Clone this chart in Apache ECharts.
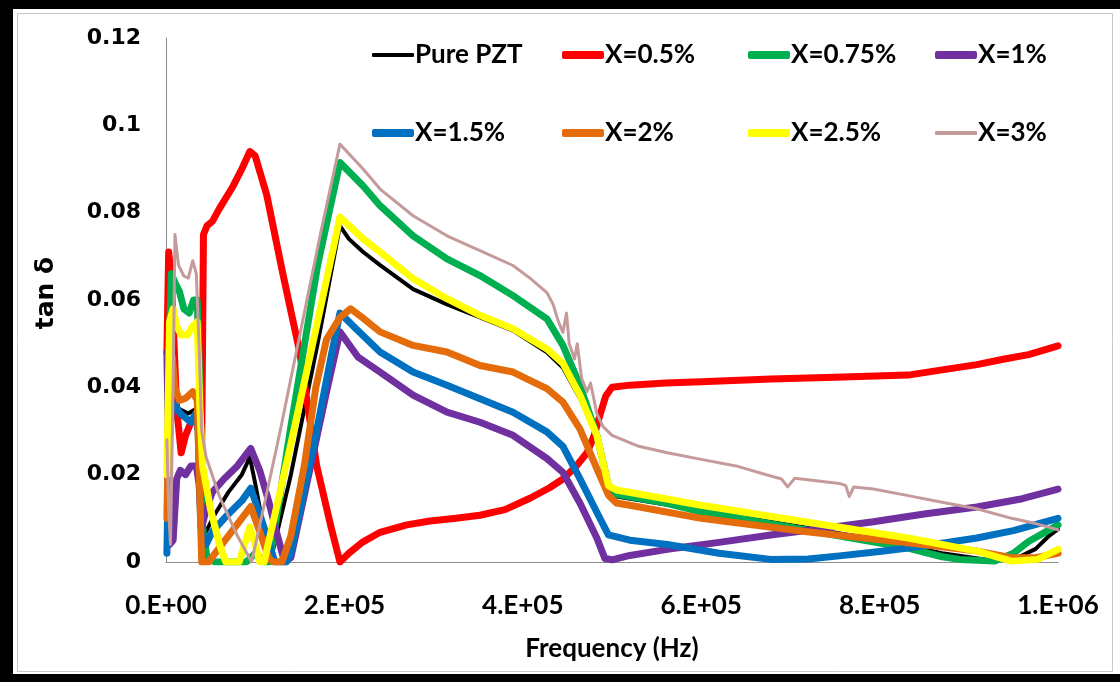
<!DOCTYPE html>
<html>
<head>
<meta charset="utf-8">
<script src="https://cdn.jsdelivr.net/npm/echarts@6/dist/echarts.min.js"></script>
<style>
  html, body { margin: 0; padding: 0; background: #ffffff; }
  #chart { width: 1120px; height: 682px; }
</style>
</head>
<body>
<div id="chart"></div>
<script>
// Dielectric loss (tan δ) versus frequency for PZT ceramics with different dopant levels.
// Each series is a list of [frequency in Hz, tan δ] pairs.

const xTickLabels = ['0.E+00', '2.E+05', '4.E+05', '6.E+05', '8.E+05', '1.E+06'];
const yTickLabels = ['0', '0.02', '0.04', '0.06', '0.08', '0.1', '0.12'];

const seriesNames = ['Pure PZT', 'X=0.5%', 'X=0.75%', 'X=1%', 'X=1.5%', 'X=2%', 'X=2.5%', 'X=3%'];
const seriesColors = ['#000000', '#FF0000', '#00B050', '#7030A0', '#0070C0', '#E46C0A', '#FFFF00', '#C49A9A'];

const purePZT = [
  [1000,0.004],[3000,0.030],[6000,0.036],[15000,0.035],[25000,0.034],[33000,0.035],[37000,0.030],
  [40000,0.004],[45000,0.007],[55000,0.011],[70000,0.016],[85000,0.020],[94000,0.024],[100000,0.018],
  [110000,0.007],[114000,0.002],[118000,0.001],[140000,0.020],[170000,0.050],[195000,0.077],
  [205000,0.074],[221000,0.071],[240000,0.068],[277000,0.0625],[315000,0.059],[352000,0.056],
  [389000,0.053],[427000,0.048],[445000,0.0445],[464000,0.0375],[483000,0.0285],[496000,0.0175],
  [505000,0.015],[550000,0.0135],[600000,0.0118],[700000,0.0085],[800000,0.005],[870000,0.002],
  [920000,0.0005],[950000,0.0005],[975000,0.003],[990000,0.006],[1000000,0.0075]
];

const x05 = [
  [1000,0.048],[3000,0.071],[6000,0.065],[12000,0.035],[17000,0.025],[22000,0.029],[28000,0.032],
  [33000,0.033],[37000,0.031],[40000,0.026],[42000,0.075],[46000,0.077],[52000,0.078],[60000,0.081],
  [75000,0.086],[85000,0.090],[94000,0.094],[100000,0.093],[113000,0.084],[131000,0.066],
  [150000,0.048],[169000,0.022],[185000,0.008],[195000,0.0],[205000,0.002],[220000,0.0045],
  [240000,0.0068],[270000,0.0085],[296000,0.0094],[325000,0.010],[352000,0.0107],[380000,0.012],
  [408000,0.0146],[430000,0.017],[445000,0.019],[460000,0.022],[472000,0.025],[480000,0.029],
  [487000,0.034],[493000,0.038],[500000,0.040],[520000,0.0405],[560000,0.041],[600000,0.0413],
  [678000,0.0419],[750000,0.0423],[832000,0.0428],[870000,0.044],[909000,0.0452],[940000,0.0465],
  [967000,0.0475],[1000000,0.0495]
];

const x075 = [
  [3000,0.045],[6000,0.066],[10000,0.064],[15000,0.062],[20000,0.058],[26000,0.057],[31000,0.060],
  [35000,0.060],[38000,0.040],[41000,0.008],[46000,0.001],[55000,0.0],[70000,0.0],[90000,0.0],
  [100000,0.002],[110000,0.0],[116000,0.0],[140000,0.031],[170000,0.068],[195000,0.0915],
  [221000,0.0861],[240000,0.0816],[277000,0.0747],[315000,0.0694],[352000,0.0656],[389000,0.061],
  [427000,0.0557],[445000,0.0496],[464000,0.0405],[483000,0.029],[496000,0.0175],[505000,0.0155],
  [560000,0.0135],[600000,0.0115],[716000,0.0074],[832000,0.0032],[870000,0.0012],[890000,0.0006],
  [929000,0.0002],[950000,0.002],[967000,0.0047],[1000000,0.0085]
];

const x1 = [
  [1000,0.048],[2500,0.030],[4000,0.004],[8000,0.005],[12000,0.019],[16000,0.021],[22000,0.020],
  [28000,0.022],[34000,0.022],[37000,0.018],[40000,0.008],[45000,0.012],[52000,0.016],[65000,0.019],
  [80000,0.022],[95000,0.026],[105000,0.021],[115000,0.014],[125000,0.006],[133000,0.0],
  [140000,0.001],[160000,0.020],[180000,0.039],[195000,0.0527],[215000,0.047],[240000,0.0435],
  [277000,0.0382],[315000,0.0343],[352000,0.032],[389000,0.029],[427000,0.0237],[445000,0.0205],
  [464000,0.0135],[483000,0.0055],[492000,0.0008],[500000,0.0005],[520000,0.0015],[562000,0.0029],
  [620000,0.0045],[678000,0.0062],[740000,0.0078],[793000,0.0092],[850000,0.011],[909000,0.0126],
  [960000,0.0145],[1000000,0.0167]
];

const x15 = [
  [1000,0.002],[3000,0.025],[6000,0.035],[10000,0.036],[16000,0.034],[22000,0.033],[28000,0.032],
  [33000,0.034],[36000,0.030],[39000,0.008],[45000,0.004],[52000,0.007],[70000,0.011],[85000,0.014],
  [95000,0.0169],[105000,0.011],[116000,0.004],[122000,0.0],[135000,0.0],[140000,0.002],
  [165000,0.026],[185000,0.047],[195000,0.057],[215000,0.053],[240000,0.0481],[277000,0.0435],
  [315000,0.0405],[352000,0.0374],[389000,0.0343],[427000,0.0298],[445000,0.0265],[464000,0.0191],
  [483000,0.0114],[496000,0.0062],[520000,0.005],[562000,0.004],[620000,0.002],[678000,0.0006],
  [720000,0.0007],[755000,0.0014],[800000,0.0024],[832000,0.0032],[870000,0.0043],[909000,0.0055],
  [950000,0.0072],[1000000,0.010]
];

const x2 = [
  [1000,0.010],[4000,0.046],[7000,0.047],[10000,0.040],[15000,0.037],[22000,0.0375],[30000,0.039],
  [35000,0.037],[38000,0.015],[40000,0.0],[48000,0.0],[55000,0.002],[70000,0.006],[85000,0.010],
  [95000,0.0127],[105000,0.007],[115000,0.001],[120000,0.0],[130000,0.0],[140000,0.006],
  [155000,0.022],[168000,0.040],[180000,0.051],[195000,0.056],[207000,0.058],[220000,0.056],
  [240000,0.0527],[277000,0.0496],[315000,0.0481],[352000,0.045],[389000,0.0435],[427000,0.0397],
  [445000,0.0366],[464000,0.0305],[483000,0.0214],[496000,0.0153],[505000,0.0135],[520000,0.013],
  [600000,0.010],[716000,0.007],[832000,0.0044],[909000,0.0025],[948000,0.001],[975000,0.001],
  [1000000,0.002]
];

const x25 = [
  [1000,0.020],[4000,0.055],[8000,0.058],[12000,0.054],[17000,0.052],[24000,0.052],[30000,0.054],
  [35000,0.055],[38000,0.035],[41000,0.022],[50000,0.012],[60000,0.004],[67000,0.0],[82000,0.0],
  [88000,0.004],[94000,0.008],[100000,0.004],[105000,0.0],[110000,0.0],[140000,0.027],
  [173000,0.058],[195000,0.079],[221000,0.074],[240000,0.071],[277000,0.0649],[315000,0.0603],
  [352000,0.0565],[389000,0.0534],[427000,0.0488],[445000,0.0455],[464000,0.0382],[483000,0.029],
  [496000,0.0175],[505000,0.0165],[560000,0.0145],[600000,0.013],[716000,0.0092],[832000,0.0055],
  [909000,0.0025],[948000,0.0002],[977000,0.0006],[1000000,0.0029]
];

const x3 = [
  [1000,0.028],[3000,0.012],[5000,0.004],[8000,0.040],[10000,0.075],[14000,0.068],[20000,0.0655],
  [25000,0.065],[30000,0.069],[34000,0.066],[37000,0.050],[40000,0.030],[45000,0.024],[60000,0.015],
  [80000,0.006],[96000,0.0],[110000,0.013],[128000,0.030],[150000,0.052],[173000,0.075],
  [195000,0.0957],[221000,0.090],[240000,0.0854],[277000,0.0793],[315000,0.0747],[352000,0.0713],
  [389000,0.0679],[408000,0.065],[427000,0.0617],[434000,0.059],[440000,0.055],[445000,0.0526],
  [449000,0.057],[452000,0.050],[458000,0.0465],[461000,0.050],[466000,0.042],[472000,0.039],
  [476000,0.041],[483000,0.034],[490000,0.031],[500000,0.029],[530000,0.0265],[562000,0.025],
  [600000,0.0235],[639000,0.022],[678000,0.0197],[690000,0.019],[697000,0.0172],[705000,0.0192],
  [755000,0.018],[762000,0.0175],[766000,0.015],[771000,0.0172],[793000,0.0167],[832000,0.0152],
  [870000,0.0137],[909000,0.0122],[948000,0.010],[975000,0.0088],[1000000,0.0074]
];

const seriesData = [purePZT, x05, x075, x1, x15, x2, x25, x3];
const lineWidths = [4, 7, 7, 7, 7, 7, 7, 3];

// Legend layout: two rows of four entries
const legendLeft = [372, 562, 748, 935];
const legendTop = [42, 120];

const labelFont = 'Lato, "Open Sans", "Liberation Sans", sans-serif';
const tickFont = '"DejaVu Sans", Verdana, sans-serif';

const chart = echarts.init(document.getElementById('chart'), null, { renderer: 'canvas' });

const legends = seriesNames.map((name, i) => ({
  data: [name],
  left: legendLeft[i % 4],
  top: legendTop[Math.floor(i / 4)],
  padding: 0,
  icon: 'roundRect',
  itemWidth: 42,
  itemHeight: (i === 0 || i === 7) ? 4 : 8,
  textStyle: { fontFamily: labelFont, fontWeight: 'bold', fontSize: 26, color: '#000', padding: [0, 0, 0, -4] }
}));

const option = {
  backgroundColor: '#ffffff',
  animation: false,
  legend: legends,
  grid: { left: 166, right: 62, top: 38, bottom: 120, containLabel: false },
  xAxis: {
    type: 'value',
    min: 0,
    max: 1000000,
    interval: 200000,
    splitLine: { show: false },
    axisTick: { show: false },
    axisLine: { show: true, lineStyle: { color: '#8c8c8c', width: 1 } },
    axisLabel: {
      margin: 31,
      fontFamily: labelFont,
      fontWeight: 'bold',
      fontSize: 26,
      color: '#000',
      formatter: v => xTickLabels[Math.round(v / 200000)]
    },
    name: 'Frequency (Hz)',
    nameLocation: 'middle',
    nameGap: 74,
    nameTextStyle: { fontFamily: labelFont, fontWeight: 'bold', fontSize: 26, color: '#000', verticalAlign: 'top' }
  },
  yAxis: {
    type: 'value',
    min: 0,
    max: 0.12,
    interval: 0.02,
    splitLine: { show: false },
    axisTick: { show: false },
    axisLine: { show: true, lineStyle: { color: '#8c8c8c', width: 1 } },
    axisLabel: {
      margin: 25,
      fontFamily: tickFont,
      fontWeight: 'bold',
      fontSize: 22,
      color: '#000',
      formatter: v => yTickLabels[Math.round(v / 0.02)]
    }
  },
  graphic: [
    // outer chart-area frame
    { type: 'rect', shape: { x: 17.5, y: 13.5, width: 1095, height: 658 }, style: { fill: 'none', stroke: '#c8c8c8', lineWidth: 1 }, silent: true },
    { type: 'rect', shape: { x: 0, y: 0, width: 13, height: 682 }, style: { fill: '#000' }, silent: true },
    { type: 'rect', shape: { x: 0, y: 0, width: 1120, height: 9 }, style: { fill: '#000' }, silent: true },
    { type: 'rect', shape: { x: 0, y: 674, width: 1120, height: 8 }, style: { fill: '#000' }, silent: true },
    {
      type: 'text', x: 46, y: 293, rotation: Math.PI / 2,
      style: { text: 'tan δ', fontFamily: tickFont, fontWeight: 'bold', fontSize: 25, fill: '#000', align: 'center', verticalAlign: 'middle' },
      silent: true
    }
  ],
  series: seriesNames.map((name, i) => ({
    name: name,
    type: 'line',
    data: seriesData[i],
    showSymbol: false,
    symbol: 'none',
    smooth: false,
    color: seriesColors[i],
    lineStyle: { color: seriesColors[i], width: lineWidths[i], cap: 'round', join: 'round' },
    z: 2
  }))
};

chart.setOption(option);
</script>
</body>
</html>
